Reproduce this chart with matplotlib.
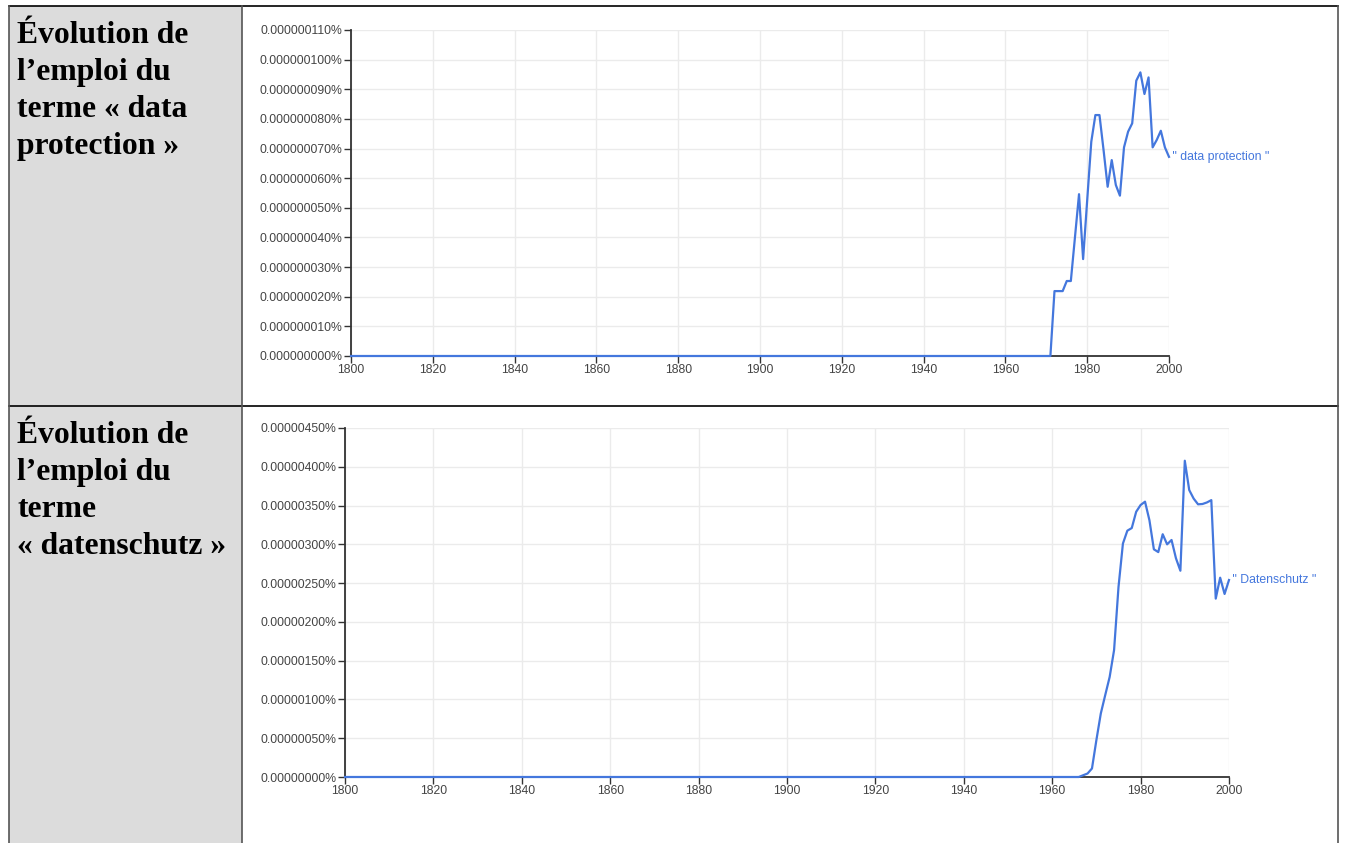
import matplotlib.pyplot as plt
from matplotlib.patches import Rectangle
from matplotlib.lines import Line2D

W, H = 1348, 843

# --- données ---
# "data protection" (unités : 1e-9 %)
annees_dp = [1800, 1971, 1972, 1974, 1975, 1976, 1978, 1979, 1980, 1981, 1982, 1983,
             1984, 1985, 1986, 1987, 1988, 1989, 1990, 1991, 1992, 1993, 1994, 1995,
             1996, 1997, 1998, 1999, 2000]
valeurs_dp = [0, 0, 21.9, 21.9, 25.3, 25.3, 54.6, 32.7, 52.6, 72.3, 81.3, 81.3,
              69.5, 57.1, 66.1, 57.7, 54.1, 70.4, 75.7, 78.5, 92.9, 95.7, 88.4, 94.0,
              70.4, 72.9, 76.0, 70.4, 67.2]
ticks_dp = [0, 10, 20, 30, 40, 50, 60, 70, 80, 90, 100, 110]

# "Datenschutz" (unités : 1e-8 %)
annees_ds = [1800, 1966, 1968, 1969, 1970, 1971, 1972, 1973, 1974, 1975, 1976, 1977,
             1978, 1979, 1980, 1981, 1982, 1983, 1984, 1985, 1986, 1987, 1988, 1989,
             1990, 1991, 1992, 1993, 1994, 1995, 1996, 1997, 1998, 1999, 2000]
valeurs_ds = [0, 0, 4.5, 11, 47.7, 82, 105.7, 129, 163.7, 245, 301, 317.6,
              321, 342, 350.7, 355, 331, 293.6, 290, 313, 300, 305.6, 282, 266,
              407.8, 370, 359, 351.6, 352, 354, 357, 230, 257, 236, 254]
ticks_ds = [0, 50, 100, 150, 200, 250, 300, 350, 400, 450]

ticks_x = list(range(1800, 2001, 20))

titres = [["Évolution de", "l\u2019emploi du", "terme « data", "protection »"],
          ["Évolution de", "l\u2019emploi du", "terme", "« datenschutz »"]]
etiquettes = ['" data protection "', '" Datenschutz "']

BLEU = '#4477dd'


def fx(x):
    return x / W


def fy(y):
    return 1 - y / H


fig = plt.figure(figsize=(W / 100, H / 100), dpi=100)
fig.patch.set_facecolor('white')

# tableau
fig.add_artist(Rectangle((fx(9), fy(843)), fx(242) - fx(9), fy(6) - fy(843),
                         transform=fig.transFigure, facecolor='#dcdcdc',
                         edgecolor='none', zorder=0))
for (x0, y0, x1, y1, c) in [(9, 6, 1338, 6, 'black'), (9, 406, 1338, 406, 'black'),
                            (9, 6, 9, 843, '#555555'), (1338, 6, 1338, 843, '#555555'),
                            (242, 6, 242, 843, '#555555')]:
    fig.add_artist(Line2D([fx(x0), fx(x1)], [fy(y0), fy(y1)], transform=fig.transFigure,
                          color=c, linewidth=1.2))

# textes de gauche
for lignes, base in zip(titres, [43, 443]):
    for i, ligne in enumerate(lignes):
        fig.text(fx(17), fy(base + 37 * i), ligne, family='Liberation Serif',
                 fontweight='bold', fontsize=22.8, va='baseline', ha='left')

configs = [
    (annees_dp, valeurs_dp, ticks_dp, 1e-9, 9, (351, 30, 1169, 356), etiquettes[0]),
    (annees_ds, valeurs_ds, ticks_ds, 1e-8, 8, (345, 428, 1229, 777), etiquettes[1]),
]

for annees, valeurs, ticks, unite, dec, (x0, y0, x1, y1), label in configs:
    ax = fig.add_axes([fx(x0), fy(y1), fx(x1) - fx(x0), fy(y0) - fy(y1)])
    ax.plot(annees, valeurs, color=BLEU, linewidth=1.6, clip_on=False, zorder=3)
    ax.set_xlim(1800, 2000)
    ax.set_ylim(0, ticks[-1])
    ax.set_xticks(ticks_x)
    ax.set_yticks(ticks)
    ax.set_yticklabels([f"{t * unite:.{dec}f}%" for t in ticks])
    ax.grid(True, color='#ebebeb', linewidth=1)
    ax.set_axisbelow(True)
    for s in ['top', 'right']:
        ax.spines[s].set_visible(False)
    for s in ['left', 'bottom']:
        ax.spines[s].set_color('#333333')
        ax.spines[s].set_linewidth(1.3)
    ax.tick_params(axis='both', colors='#333333', labelcolor='#444444',
                   labelsize=8.8, length=5, width=1, pad=1)
    for t in ax.get_xticklabels() + ax.get_yticklabels():
        t.set_family('Liberation Sans')
    ax.text(2000, valeurs[-1], ' ' + label, color=BLEU, fontsize=8.8,
            family='Liberation Sans', va='center', ha='left', clip_on=False)

fig.savefig('out.png', dpi=100)
